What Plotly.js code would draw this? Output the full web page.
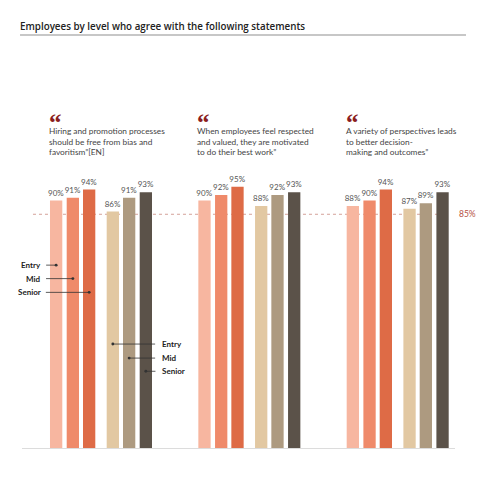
<!DOCTYPE html>
<html>
<head>
<meta charset="utf-8">
<script src="https://cdn.plot.ly/plotly-3.0.1.min.js"></script>
<style>html,body{margin:0;padding:0;background:#fff}#chart{width:500px;height:500px}</style>
</head>
<body>
<div id="chart"></div>
<script>
// ---- data ----
var statements = ["Bias and favoritism", "Respected and valued", "Variety of perspectives"];
var statementTexts = [
  "Hiring and promotion processes<br>should be free from bias and<br>favoritism\u201d[EN]",
  "When employees feel respected<br>and valued, they are motivated<br>to do their best work\u201d",
  "A variety of perspectives leads<br>to better decision-<br>making and outcomes\u201d"
];
var levels = ["Entry", "Mid", "Senior"];
var groupAEntry = [90, 90, 88];
var groupAMid = [91, 92, 90];
var groupASenior = [94, 95, 94];
var groupBEntry = [86, 88, 87];
var groupBMid = [91, 92, 89];
var groupBSenior = [93, 93, 93];
var benchmark = 85;
var chartTitle = "Employees by level who agree with the following statements";

// ---- styling ----
var colors = ["#F7B6A0", "#EF8A6A", "#DE6B46", "#E2C8A2", "#AD9A80", "#5B5249"];
var offsets = [-0.3438, -0.2312, -0.1213, 0.0384, 0.1483, 0.2609];
var barW = 0.0829;
var series = [groupAEntry, groupAMid, groupASenior, groupBEntry, groupBMid, groupBSenior];
var names = ["Entry (A)", "Mid (A)", "Senior (A)", "Entry (B)", "Mid (B)", "Senior (B)"];
var font = "'Open Sans', 'Liberation Sans', sans-serif";
var bodyFont = "Lato, 'Open Sans', sans-serif";
var quoteMark = "<span style=\"font-family:'Liberation Serif',serif;font-size:25px;font-weight:bold;color:#8B1E1E;baseline-shift:-8px\">\u201c</span>";

var traces = series.map(function (vals, i) {
  return {
    type: "bar",
    name: names[i],
    x: statements,
    y: vals,
    offset: offsets[i],
    width: barW,
    marker: {color: colors[i], line: {width: 0}},
    text: vals.map(function (v) { return v + "%"; }),
    textposition: "outside",
    constraintext: "none",
    cliponaxis: false,
    textfont: {family: bodyFont, size: 8, color: "#555"},
    hovertemplate: "%{x}<br>" + names[i] + ": %{y}%<extra></extra>"
  };
});

var annotations = [];
statementTexts.forEach(function (t, i) {
  annotations.push({
    xref: "x", yref: "paper", x: i + offsets[0], y: 0.7487, xanchor: "left", yanchor: "bottom",
    xshift: -2, borderpad: 0,
    text: quoteMark + "<br>" + t, showarrow: false, align: "left",
    font: {family: bodyFont, size: 8.3, color: "#444"}
  });
});
annotations.push({
  xref: "paper", yref: "y", x: 1.004, y: benchmark, xanchor: "left", yanchor: "middle",
  text: benchmark + "%", showarrow: false, font: {family: bodyFont, size: 8.5, color: "#B5503F"}
});
// level callouts
var leftY = [66.5, 61.6, 56.6];
var leftAx = [-13, -29.8, -46.3];
levels.forEach(function (lv, k) {
  annotations.push({
    xref: "x", yref: "y", x: offsets[k] + barW / 2, y: leftY[k],
    ax: leftAx[k], ay: 0, xanchor: "right", yanchor: "middle",
    text: "<b>" + lv + "</b>", showarrow: true, arrowhead: 6, arrowsize: 0.9, arrowwidth: 0.8,
    arrowcolor: "#333", standoff: 0, startstandoff: 3,
    font: {family: bodyFont, size: 8, color: "#222"}
  });
});
var rightY = [37.8, 32.7, 27.9];
var rightAx = [47.3, 31, 14.6];
levels.forEach(function (lv, k) {
  annotations.push({
    xref: "x", yref: "y", x: offsets[k + 3] + barW / 2, y: rightY[k],
    ax: rightAx[k], ay: 0, xanchor: "left", yanchor: "middle",
    text: "<b>" + lv + "</b>", showarrow: true, arrowhead: 6, arrowsize: 0.9, arrowwidth: 0.8,
    arrowcolor: "#333", standoff: 0, startstandoff: 5,
    font: {family: bodyFont, size: 8, color: "#222"}
  });
});

var layout = {
  width: 500, height: 500,
  margin: {l: 22, r: 45, t: 60, b: 52, pad: 0},
  paper_bgcolor: "#fff", plot_bgcolor: "#fff",
  showlegend: false,
  barmode: "overlay",
  title: {text: chartTitle, x: 0.04, xref: "container", xanchor: "left", y: 0.946, yref: "container", yanchor: "middle",
          font: {family: font, size: 9.8, color: "#222", weight: 600}},
  xaxis: {type: "category", range: [-0.5325, 2.3863], showticklabels: false, ticks: "",
          showgrid: false, zeroline: false, showline: true, linecolor: "#dcdcdc", linewidth: 1, fixedrange: true},
  yaxis: {range: [0, 141.1], showticklabels: false, ticks: "", showgrid: false, zeroline: false, showline: false, fixedrange: true},
  shapes: [
    {type: "line", xref: "paper", yref: "paper", x0: -0.0046, x1: 1.0254, y0: 1.0644, y1: 1.0644,
     line: {color: "#b5b5b5", width: 1.5}},
    {type: "line", xref: "paper", yref: "y", x0: 0.0254, x1: 0.9838, y0: benchmark, y1: benchmark,
     layer: "below", line: {color: "#c98a80", width: 0.8, dash: "dot"}}
  ],
  annotations: annotations
};

Plotly.newPlot("chart", traces, layout, {displayModeBar: false, staticPlot: true});
</script>
</body>
</html>
